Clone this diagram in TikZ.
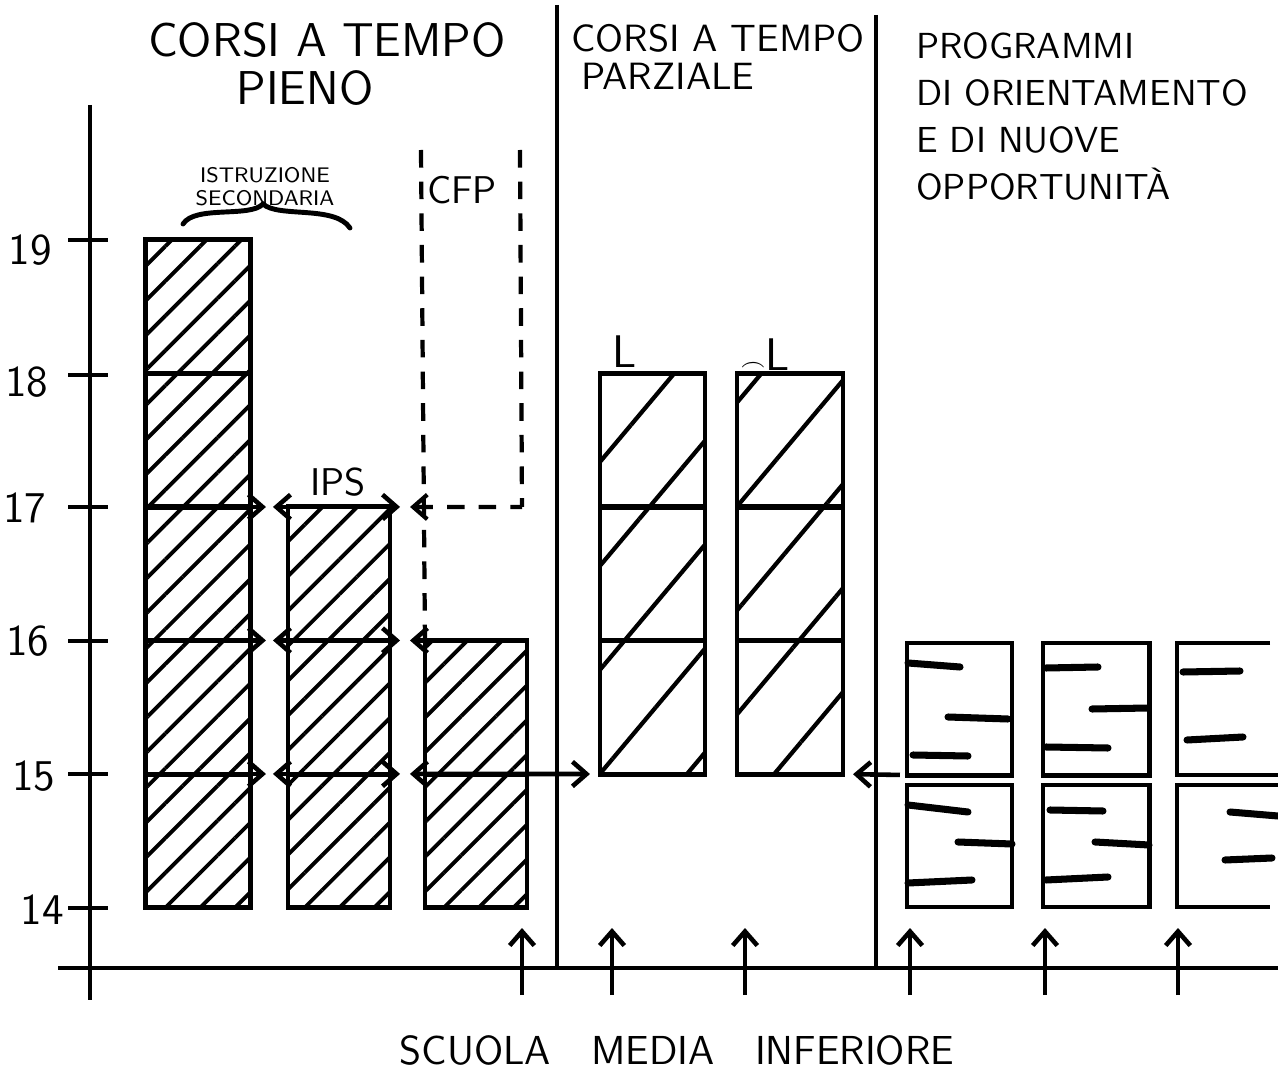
\documentclass[tikz,border=0pt]{standalone}
\usepackage{fontspec}
\usetikzlibrary{patterns.meta,arrows.meta}
\begin{document}
\begin{tikzpicture}[x=0.01cm,y=-0.01cm,font=\sffamily,>={Straight Barb[length=4pt,width=7pt]}]
\tikzstyle{cella}=[draw, line width=1.4pt, inner sep=0, outer sep=0, minimum width=1.05cm, minimum height=1.335cm]
\tikzstyle{fitto}=[pattern={Lines[angle=45,distance=7pt,line width=1.1pt]}]
\tikzstyle{rado}=[pattern={Lines[angle=50,distance=19pt,line width=1.2pt]}]
\tikzstyle{freccia}=[->, line width=1.3pt]
\tikzstyle{riga}=[line width=2pt, line cap=round]
\tikzstyle{tratteggio}=[line width=1.2pt, dash pattern=on 5pt off 4pt]
\tikzstyle{scritta}=[inner sep=1pt]
\useasboundingbox (0,0) rectangle (1278,1073);

% assi
\coordinate (asseA) at (90,105);
\coordinate (asseB) at (90,1000);
\coordinate (baseA) at (58,968);
\coordinate (baseB) at (1278,968);
\draw[line width=1.4pt] (asseA) -- (asseB);
\draw[line width=1.4pt] (baseA) -- (baseB);
\foreach \v/\y/\x/\ly in {19/240/30/250, 18/375/27/382, 17/507/25/508, 16/641/28/641, 15/774/34/776, 14/908/42/910}{
  \draw[line width=1.4pt] (68,\y) -- (108,\y);
  \node[scritta, font=\sffamily\fontsize{12.5}{14}\selectfont] (eta\v) at (\x,\ly) {\v};
}

% separatori
\coordinate (sepA) at (557,5);
\coordinate (sepB) at (557,968);
\coordinate (sepC) at (876,15);
\coordinate (sepD) at (876,968);
\draw[line width=1pt] (sepA) -- (sepB);
\draw[line width=1pt] (sepC) -- (sepD);

% istruzione secondaria
\node[cella,fitto] (is1) at (198,840.75) {};
\node[cella,fitto] (is2) at (198,707.25) {};
\node[cella,fitto] (is3) at (198,573.75) {};
\node[cella,fitto] (is4) at (198,440.25) {};
\node[cella,fitto] (is5) at (198,306.75) {};
% IPS
\node[cella,fitto,minimum width=1.02cm] (ips1) at (339,840.75) {};
\node[cella,fitto,minimum width=1.02cm] (ips2) at (339,707.25) {};
\node[cella,fitto,minimum width=1.02cm] (ips3) at (339,573.75) {};
% CFP
\node[cella,fitto,minimum width=1.02cm] (cfp1) at (476,840.75) {};
\node[cella,fitto,minimum width=1.02cm] (cfp2) at (476,707.25) {};
\coordinate (cfpA) at (421,150);
\coordinate (cfpB) at (520,150);
\coordinate (cfpC) at (522,507);
\draw[tratteggio] (cfpA) -- (cfp2.north west);
\draw[tratteggio] (cfpB) -- (cfpC);

% tempo parziale
\node[cella,rado] (l1) at (652.5,707.25) {};
\node[cella,rado] (l2) at (652.5,573.75) {};
\node[cella,rado] (l3) at (652.5,440.25) {};
\node[cella,rado,minimum width=1.06cm] (al1) at (790,707.25) {};
\node[cella,rado,minimum width=1.06cm] (al2) at (790,573.75) {};
\node[cella,rado,minimum width=1.06cm] (al3) at (790,440.25) {};

% passaggi
\draw[freccia, shorten >=0.22cm] (is3.north east) -- (ips3.north west);
\draw[freccia, <->, shorten <=-0.15cm, shorten >=-0.1cm] (ips3.north west) -- (ips3.north east);
\draw[freccia, <-, tratteggio, shorten <=0.2cm] (ips3.north east) -- (cfpC);
\draw[freccia, shorten >=0.22cm] (is2.north east) -- (ips2.north west);
\draw[freccia, <->, shorten <=-0.15cm, shorten >=-0.1cm] (ips2.north west) -- (ips2.north east);
\draw[freccia, <-, shorten <=-0.15cm] (cfp2.north west) -- (cfp2.north east);
\draw[freccia, shorten >=0.22cm] (is1.north east) -- (ips1.north west);
\draw[freccia, <->, shorten <=-0.15cm, shorten >=-0.1cm] (ips1.north west) -- (ips1.north east);
\draw[freccia, <->, shorten <=-0.15cm, shorten >=0.1cm] (cfp1.north west) -- (l1.south west);

% programmi
\node[cella,minimum height=1.32cm] (op1) at (959.5,709) {};
\node[cella,minimum height=1.32cm,minimum width=1.06cm] (op2) at (1096,709) {};
\node[cella,minimum height=1.22cm] (op3) at (959.5,846) {};
\node[cella,minimum height=1.22cm,minimum width=1.06cm] (op4) at (1096,846) {};
\draw[line width=1.4pt] (1270,643) -- (1177,643) -- (1177,775) -- (1278,775);
\draw[line width=1.4pt] (1278,785) -- (1177,785) -- (1177,907) -- (1270,907);
\draw[freccia, shorten <=0.07cm, shorten >=0.1cm] (op1.south west) -- (al1.south east);
\draw[riga] (908,663) -- (960,667);
\draw[riga] (948,717) -- (1008,719);
\draw[riga] (913,755) -- (968,756);
\draw[riga] (908,805) -- (968,812);
\draw[riga] (958,842) -- (1012,844);
\draw[riga] (908,883) -- (972,880);
\draw[riga] (1046,668) -- (1098,667);
\draw[riga] (1092,709) -- (1148,708);
\draw[riga] (1046,747) -- (1108,748);
\draw[riga] (1050,810) -- (1103,811);
\draw[riga] (1095,842) -- (1149,845);
\draw[riga] (1046,880) -- (1108,877);
\draw[riga] (1183,672) -- (1240,671);
\draw[riga] (1187,740) -- (1243,737);
\draw[riga] (1230,812) -- (1278,816);
\draw[riga] (1225,860) -- (1272,858);

% accessi dalla scuola media
\foreach \x/\n in {522/1, 612/2, 745/3, 910/4, 1045/5, 1178/6}{
  \coordinate (su\n) at (\x,995);
  \coordinate (sa\n) at (\x,928);
  \draw[freccia] (su\n) -- (sa\n);
}

% scritte
\node[scritta, font=\sffamily\fontsize{13.5}{15}\selectfont] (pieno1) at (327,40) {CORSI A TEMPO};
\node[scritta, font=\sffamily\fontsize{13.5}{15}\selectfont] (pieno2) at (305,88) {PIENO};
\node[scritta, font=\sffamily\fontsize{10.8}{12}\selectfont] (parz1) at (718,38) {CORSI A TEMPO};
\node[scritta, font=\sffamily\fontsize{10.8}{12}\selectfont] (parz2) at (668,76) {PARZIALE};
\node[scritta, anchor=north west, align=left, font=\sffamily\fontsize{10.3}{13.4}\selectfont] (progr) at (912,28) {PROGRAMMI\\DI ORIENTAMENTO\\E DI NUOVE\\OPPORTUNITÀ};
\node[scritta, align=center, font=\sffamily\fontsize{6}{6.6}\selectfont] (istr) at (265,187) {ISTRUZIONE\\SECONDARIA};
\draw[line width=1.4pt, line cap=round] (183,224) .. controls (195,205) and (250,218) .. (263,204) .. controls (278,218) and (335,205) .. (350,228);
\node[scritta, font=\sffamily\fontsize{11}{13}\selectfont] (cfp) at (462,190) {CFP};
\node[scritta, font=\sffamily\fontsize{11}{13}\selectfont] (ips) at (338,482) {IPS};
\node[scritta, font=\sffamily\fontsize{13}{15}\selectfont] (lett1) at (625,352) {L};
\node[scritta, font=\sffamily\fontsize{13}{15}\selectfont] (lett2) at (765,355) {$\scriptscriptstyle\frown$L};
\node[scritta, font=\sffamily\fontsize{11.5}{14}\selectfont] (scuola) at (677,1050) {SCUOLA\quad MEDIA\quad INFERIORE};
\end{tikzpicture}
\end{document}
